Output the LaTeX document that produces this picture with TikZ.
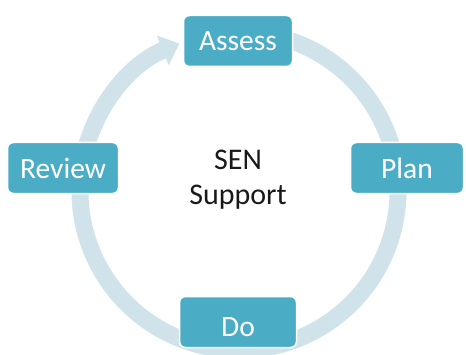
\documentclass[tikz,border=0pt]{standalone}
\usepackage{fontspec}
\setmainfont{Carlito}
\usetikzlibrary{arrows.meta}
\definecolor{stagefill}{HTML}{4BACC6}
\definecolor{ringfill}{HTML}{D0E3EA}

\begin{document}
\begin{tikzpicture}[x=1pt,y=1pt]
\tikzset{stagebox/.style={fill=stagefill, draw=white, line width=1.5pt,
rounded corners=6pt, text=white, inner sep=0pt, minimum height=51pt,
font=\fontsize{29.5}{35}\selectfont},
cycle/.style={ringfill, line width=17pt,
-{Triangle[width=31pt,length=18pt]}},
}
\useasboundingbox (0,0) rectangle (466,354);
\coordinate (centre) at (239,163);
\draw[cycle] ([shift={(80:159)}]centre) arc[start angle=80, end angle=-248, radius=159];
\node[stagebox, minimum width=109pt] (assess) at (238,313) {Assess};
\node[stagebox, minimum width=111pt] (review) at (63,186) {Review};
\node[stagebox, minimum width=113pt] (plan) at (407,186) {Plan};
\node[stagebox, minimum width=117pt, text height=29pt, text depth=0pt] (do) at (238,32) {Do};
\node[align=center, text=black!90, font=\fontsize{30}{35}\selectfont] (sen) at (238,174) {SEN\\Support};

\end{tikzpicture}
\end{document}
